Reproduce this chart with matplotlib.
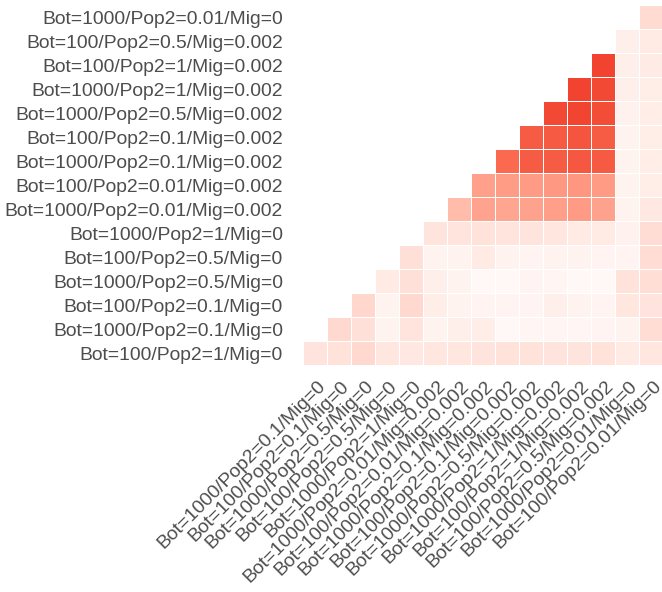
import numpy as np
import matplotlib
matplotlib.use("Agg")
import matplotlib.pyplot as plt
from matplotlib.colors import ListedColormap
from matplotlib.transforms import ScaledTranslation

# Row labels, top to bottom
row_labels = [
    "Bot=1000/Pop2=0.01/Mig=0",
    "Bot=100/Pop2=0.5/Mig=0.002",
    "Bot=100/Pop2=1/Mig=0.002",
    "Bot=1000/Pop2=1/Mig=0.002",
    "Bot=1000/Pop2=0.5/Mig=0.002",
    "Bot=100/Pop2=0.1/Mig=0.002",
    "Bot=1000/Pop2=0.1/Mig=0.002",
    "Bot=100/Pop2=0.01/Mig=0.002",
    "Bot=1000/Pop2=0.01/Mig=0.002",
    "Bot=1000/Pop2=1/Mig=0",
    "Bot=100/Pop2=0.5/Mig=0",
    "Bot=1000/Pop2=0.5/Mig=0",
    "Bot=100/Pop2=0.1/Mig=0",
    "Bot=1000/Pop2=0.1/Mig=0",
    "Bot=100/Pop2=1/Mig=0",
]

# Column labels, left to right
col_labels = [
    "Bot=1000/Pop2=0.1/Mig=0",
    "Bot=100/Pop2=0.1/Mig=0",
    "Bot=1000/Pop2=0.5/Mig=0",
    "Bot=100/Pop2=0.5/Mig=0",
    "Bot=1000/Pop2=1/Mig=0",
    "Bot=1000/Pop2=0.01/Mig=0.002",
    "Bot=100/Pop2=0.01/Mig=0.002",
    "Bot=1000/Pop2=0.1/Mig=0.002",
    "Bot=100/Pop2=0.1/Mig=0.002",
    "Bot=1000/Pop2=0.5/Mig=0.002",
    "Bot=1000/Pop2=1/Mig=0.002",
    "Bot=100/Pop2=1/Mig=0.002",
    "Bot=100/Pop2=0.5/Mig=0.002",
    "Bot=1000/Pop2=0.01/Mig=0",
    "Bot=100/Pop2=0.01/Mig=0",
]

# Correlation values per row (top to bottom); each row lists the visible
# cells, right-aligned (the last value is in the last column).
row_values = [
    [0.20],
    [0.09, 0.12],
    [0.96, 0.09, 0.11],
    [0.96, 0.94, 0.09, 0.10],
    [0.94, 0.95, 0.92, 0.08, 0.10],
    [0.86, 0.87, 0.89, 0.86, 0.07, 0.10],
    [0.80, 0.86, 0.86, 0.88, 0.87, 0.07, 0.10],
    [0.52, 0.54, 0.55, 0.56, 0.57, 0.55, 0.07, 0.10],
    [0.37, 0.50, 0.49, 0.51, 0.53, 0.55, 0.51, 0.07, 0.13],
    [0.15, 0.15, 0.16, 0.15, 0.15, 0.14, 0.12, 0.12, 0.08, 0.19],
    [0.17, 0.07, 0.07, 0.12, 0.07, 0.06, 0.07, 0.07, 0.06, 0.06, 0.19],
    [0.12, 0.17, 0.09, 0.07, 0.04, 0.04, 0.06, 0.05, 0.04, 0.04, 0.16, 0.18],
    [0.22, 0.07, 0.21, 0.10, 0.07, 0.06, 0.06, 0.06, 0.09, 0.07, 0.06, 0.14, 0.15],
    [0.21, 0.17, 0.07, 0.15, 0.07, 0.09, 0.10, 0.04, 0.05, 0.05, 0.05, 0.06, 0.07, 0.19],
    [0.15, 0.16, 0.21, 0.14, 0.13, 0.14, 0.14, 0.15, 0.16, 0.16, 0.15, 0.15, 0.16, 0.12, 0.14],
]

n_rows = len(row_labels)
n_cols = len(col_labels)
Z = np.full((n_rows, n_cols), np.nan)
for r, vals in enumerate(row_values):
    Z[r, n_cols - len(vals):] = vals
Zm = np.ma.masked_invalid(Z)


# ---- white -> red gradient interpolated in CIE Lab space ----
def srgb_to_lin(c):
    c = np.asarray(c, float)
    return np.where(c <= 0.04045, c / 12.92, ((c + 0.055) / 1.055) ** 2.4)


def lin_to_srgb(c):
    c = np.clip(c, 0, 1)
    return np.where(c <= 0.0031308, 12.92 * c, 1.055 * c ** (1 / 2.4) - 0.055)


M = np.array([[0.4124, 0.3576, 0.1805],
              [0.2126, 0.7152, 0.0722],
              [0.0193, 0.1192, 0.9505]])
Minv = np.linalg.inv(M)
WHITE = np.array([0.95047, 1.0, 1.08883])


def rgb_to_lab(rgb):
    xyz = M @ srgb_to_lin(rgb) / WHITE
    f = np.where(xyz > (6 / 29) ** 3, np.cbrt(xyz), xyz / (3 * (6 / 29) ** 2) + 4 / 29)
    return np.array([116 * f[1] - 16, 500 * (f[0] - f[1]), 200 * (f[1] - f[2])])


def lab_to_rgb(lab):
    L, a, b = lab
    fy = (L + 16) / 116
    fx = fy + a / 500
    fz = fy - b / 200
    f = np.array([fx, fy, fz])
    xyz = np.where(f > 6 / 29, f ** 3, 3 * (6 / 29) ** 2 * (f - 4 / 29)) * WHITE
    return lin_to_srgb(Minv @ xyz)


lab_lo = rgb_to_lab([1, 1, 1])
lab_hi = rgb_to_lab(np.array([238, 56, 40]) / 255)
cols = [lab_to_rgb(lab_lo + t * (lab_hi - lab_lo)) for t in np.linspace(0, 1, 256)]
cmap = ListedColormap(np.clip(np.array(cols), 0, 1))

# ---- figure ----
W, H = 662, 592
dpi = 100
fig = plt.figure(figsize=(W / dpi, H / dpi), dpi=dpi)
plt.rcParams["font.family"] = ["Liberation Sans", "DejaVu Sans"]

ax_l, ax_t, ax_w, ax_h = 302.7, 5.0, 360.0, 360.0
ax = fig.add_axes([ax_l / W, 1 - (ax_t + ax_h) / H, ax_w / W, ax_h / H])

ax.pcolormesh(np.arange(n_cols + 1), np.arange(n_rows + 1), Zm,
              cmap=cmap, vmin=0, vmax=1, edgecolors="white", linewidth=0.7)
ax.set_xlim(0, n_cols)
ax.set_ylim(n_rows, 0)
for s in ax.spines.values():
    s.set_visible(False)

txt_color = "#4D4D4D"
fs = 13.85
ax.set_yticks(np.arange(n_rows) + 0.5)
ax.set_yticklabels(row_labels, fontsize=fs, color=txt_color)
ax.set_xticks(np.arange(n_cols) + 0.5)
ax.set_xticklabels(col_labels, fontsize=fs, color=txt_color,
                   rotation=45, ha="right", va="top", rotation_mode="anchor")
ax.tick_params(axis="y", length=0, pad=14.2)
ax.tick_params(axis="x", length=0, pad=9)
off = ScaledTranslation(2 / dpi, 0, fig.dpi_scale_trans)
for lbl in ax.get_xticklabels():
    lbl.set_transform(lbl.get_transform() + off)

fig.savefig("out.png", dpi=dpi)
